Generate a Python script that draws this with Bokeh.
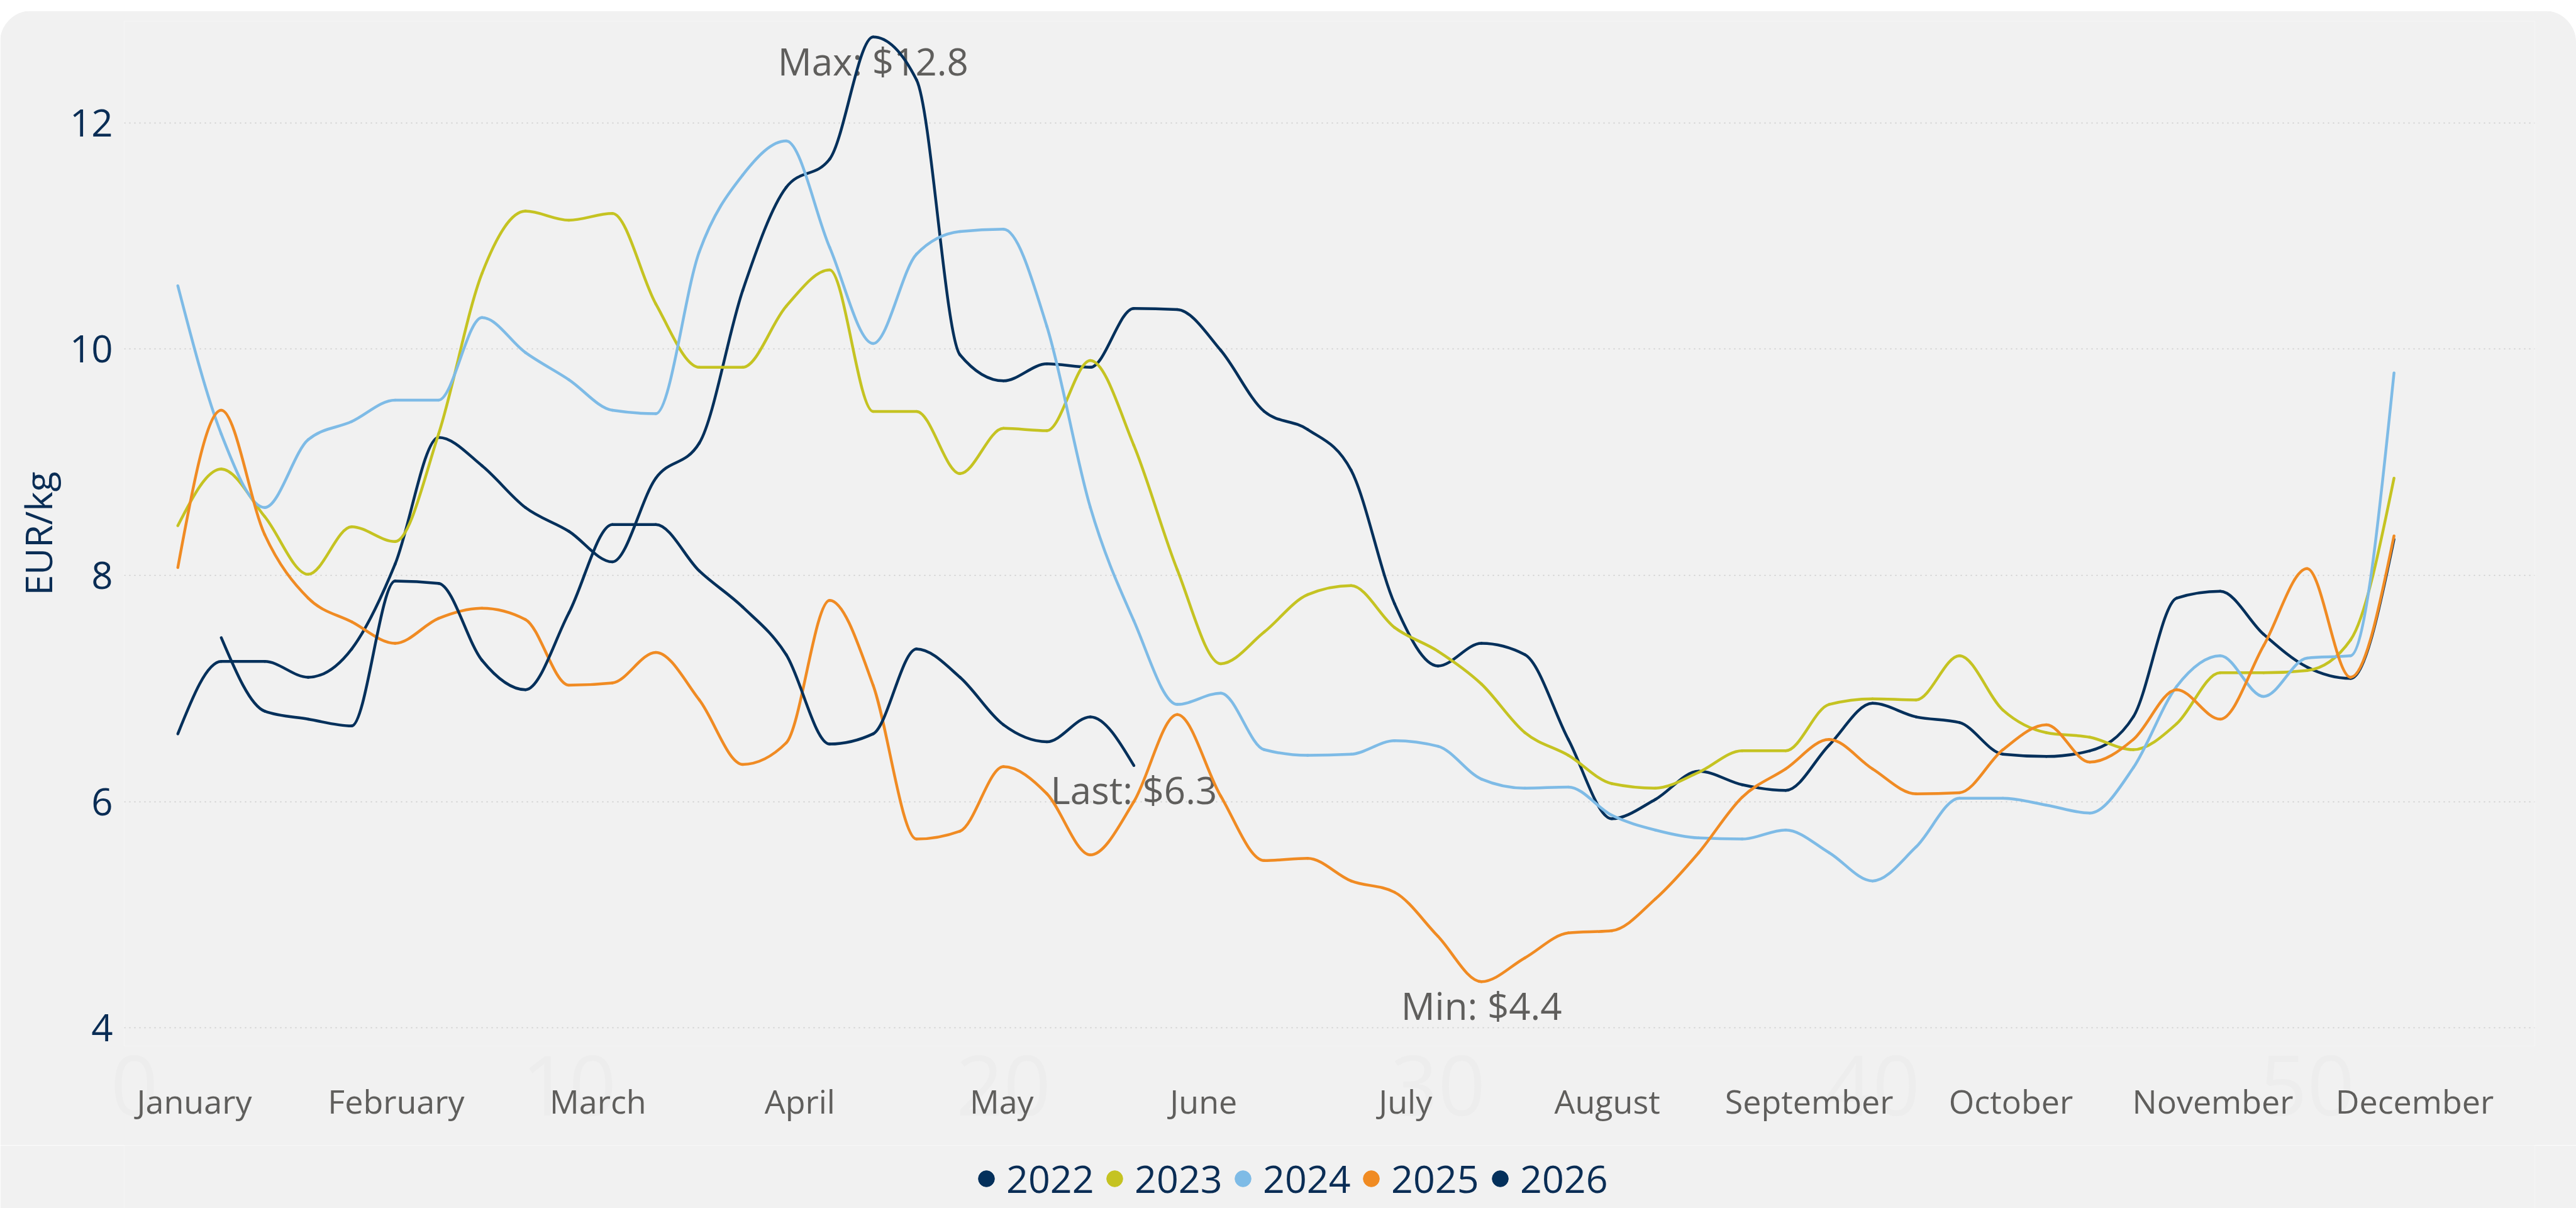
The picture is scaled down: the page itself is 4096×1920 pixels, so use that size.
from bokeh.plotting import figure
from bokeh.models import FixedTicker, Legend, LegendItem, Range1d, Spacer, LinearAxis
from bokeh.layouts import column
from bokeh.embed import file_html
from bokeh.resources import INLINE
from bokeh.core.properties import value

# ---------------- data (weekly prices, EUR/kg) ----------------
weeks = list(range(1, 53))
y2022 = [6.60, 7.24, 7.24, 7.10, 7.35, 8.10, 9.22, 8.97, 8.60, 8.39,
         8.12, 8.86, 9.17, 10.52, 11.43, 11.68, 12.76, 12.38, 9.95, 9.72,
         9.87, 9.84, 10.36, 10.35, 9.99, 9.45, 9.29, 8.93, 7.75, 7.20,
         7.40, 7.30, 6.55, 5.85, 6.02, 6.27, 6.15, 6.10, 6.50, 6.87,
         6.75, 6.70, 6.42, 6.40, 6.45, 6.75, 7.80, 7.86, 7.48, 7.19,
         7.09, 8.32]
y2023 = [8.44, 8.94, 8.52, 8.01, 8.43, 8.30, 9.25, 10.67, 11.22, 11.14,
         11.20, 10.40, 9.84, 9.84, 10.38, 10.70, 9.45, 9.45, 8.90, 9.30,
         9.28, 9.90, 9.15, 8.05, 7.22, 7.50, 7.83, 7.91, 7.54, 7.33,
         7.04, 6.61, 6.41, 6.16, 6.12, 6.26, 6.45, 6.45, 6.86, 6.91,
         6.90, 7.29, 6.81, 6.61, 6.57, 6.46, 6.69, 7.14, 7.14, 7.16,
         7.43, 8.86]
y2024 = [10.56, 9.25, 8.60, 9.20, 9.36, 9.55, 9.55, 10.28, 9.97, 9.73,
         9.46, 9.43, 10.86, 11.54, 11.84, 10.90, 10.05, 10.84, 11.04, 11.06,
         10.20, 8.60, 7.60, 6.86, 6.96, 6.46, 6.41, 6.42, 6.54, 6.49,
         6.20, 6.12, 6.13, 5.88, 5.75, 5.68, 5.67, 5.75, 5.55, 5.30,
         5.60, 6.03, 6.03, 5.97, 5.90, 6.30, 7.02, 7.29, 6.93, 7.27,
         7.29, 9.79]
y2025 = [8.07, 9.46, 8.36, 7.80, 7.59, 7.40, 7.62, 7.71, 7.61, 7.03,
         7.05, 7.32, 6.90, 6.33, 6.52, 7.78, 7.03, 5.67, 5.74, 6.31,
         6.07, 5.53, 6.00, 6.77, 6.05, 5.48, 5.50, 5.30, 5.20, 4.81,
         4.41, 4.62, 4.84, 4.86, 5.14, 5.55, 6.04, 6.29, 6.55, 6.29,
         6.07, 6.08, 6.46, 6.68, 6.35, 6.55, 6.99, 6.73, 7.38, 8.06,
         7.10, 8.35]
weeks_2026 = list(range(2, 24))
y2026 = [7.45, 6.80, 6.73, 6.67, 7.95, 7.93, 7.25, 6.99, 7.67, 8.45,
         8.45, 8.04, 7.72, 7.30, 6.51, 6.60, 7.35, 7.10, 6.68, 6.53,
         6.75, 6.32]

series_names = ["2022", "2023", "2024", "2025", "2026"]
months = ["January", "February", "March", "April", "May", "June", "July",
          "August", "September", "October", "November", "December"]
y_ticks = [4, 6, 8, 10, 12]
week_ticks = [0, 10, 20, 30, 40, 50]

# ---------------- style ----------------
NAVY_TXT = "#0A2D55"
GRAY_TXT = "#5F5E5C"
CARD = "#F1F1F1"
colors = ["#04305B", "#C5C322", "#7EBBE6", "#F08B23", "#04305B"]
FONT = "Open Sans"

p = figure(width=4096, height=1803, output_backend="svg", toolbar_location=None,
           x_range=Range1d(-0.234, 55.24), y_range=Range1d(3.841, 12.90),
           min_border_left=197, min_border_right=66, min_border_top=16,
           min_border_bottom=158)
p.background_fill_color = CARD
p.border_fill_color = CARD
p.outline_line_color = None
p.styles = {"border-radius": "50px 50px 0 0", "overflow": "hidden"}

# grid
p.xgrid.visible = False
p.ygrid.ticker = FixedTicker(ticks=y_ticks)
p.ygrid.grid_line_color = "#C9C9C9"
p.ygrid.grid_line_width = 1.6
p.ygrid.grid_line_dash = "2 6"

# y axis
ya = p.yaxis[0]
ya.ticker = FixedTicker(ticks=y_ticks)
ya.axis_line_color = None
ya.major_tick_line_color = None
ya.minor_tick_line_color = None
ya.major_label_text_font = FONT
ya.major_label_text_font_size = "60px"
ya.major_label_text_color = NAVY_TXT
ya.major_label_standoff = 12
ya.axis_label = "EUR/kg"
ya.axis_label_text_font = FONT
ya.axis_label_text_font_size = "59px"
ya.axis_label_text_font_style = "normal"
ya.axis_label_text_color = NAVY_TXT
ya.axis_label_standoff = 8

# faint week numbers (first below axis, closest to the frame)
xa = p.xaxis[0]
xa.ticker = FixedTicker(ticks=week_ticks)
xa.axis_line_color = None
xa.major_tick_line_color = None
xa.minor_tick_line_color = None
xa.major_label_text_font = FONT
xa.major_label_text_font_size = "132px"
xa.major_label_text_color = "#EDEDED"
xa.major_label_standoff = 9

# month names (second below axis, drawn on top of the faint numbers)
month_pos = [round(1.38 + 4.645 * i, 3) for i in range(len(months))]
ma = LinearAxis(ticker=FixedTicker(ticks=month_pos),
                major_label_overrides={pos: m for pos, m in zip(month_pos, months)})
ma.axis_line_color = None
ma.major_tick_line_color = None
ma.minor_tick_line_color = None
ma.major_label_text_font = FONT
ma.major_label_text_font_size = "52px"
ma.major_label_text_color = GRAY_TXT
ma.major_label_standoff = -68
p.add_layout(ma, "below")

# annotations (drawn before lines so lines pass over them)
imax = max(range(len(y2022)), key=lambda i: y2022[i])
imin = min(range(len(y2025)), key=lambda i: y2025[i])
ann_x = [weeks[imax], weeks[imin], weeks_2026[-1]]
ann_y = [y2022[imax], y2025[imin], y2026[-1]]
ann_t = ["Max: $%.1f" % y2022[imax], "Min: $%.1f" % y2025[imin], "Last: $%.1f" % y2026[-1]]
p.text(x=ann_x, y=ann_y, text=ann_t, y_offset=38, text_align="center",
       text_baseline="alphabetic", text_font=value(FONT), text_font_size="60px",
       text_color=GRAY_TXT)


def mono_slopes(x, y):
    n = len(x)
    t = [0.0] * n
    sgn = lambda v: -1.0 if v < 0 else 1.0
    for i in range(1, n - 1):
        h0 = x[i] - x[i - 1]
        h1 = x[i + 1] - x[i]
        s0 = (y[i] - y[i - 1]) / h0
        s1 = (y[i + 1] - y[i]) / h1
        pp = (s0 * h1 + s1 * h0) / (h0 + h1)
        t[i] = (sgn(s0) + sgn(s1)) * min(abs(s0), abs(s1), 0.5 * abs(pp))
    t[0] = (3 * (y[1] - y[0]) / (x[1] - x[0]) - t[1]) / 2
    t[-1] = (3 * (y[-1] - y[-2]) / (x[-1] - x[-2]) - t[-2]) / 2
    return t


def smooth_line(fig, x, y, color):
    t = mono_slopes(x, y)
    seg = dict(x0=[], y0=[], x1=[], y1=[], cx0=[], cy0=[], cx1=[], cy1=[])
    for i in range(len(x) - 1):
        dx = (x[i + 1] - x[i]) / 3.0
        seg["x0"].append(x[i]); seg["y0"].append(y[i])
        seg["x1"].append(x[i + 1]); seg["y1"].append(y[i + 1])
        seg["cx0"].append(x[i] + dx); seg["cy0"].append(y[i] + dx * t[i])
        seg["cx1"].append(x[i + 1] - dx); seg["cy1"].append(y[i + 1] - dx * t[i + 1])
    fig.bezier(line_color=color, line_width=4.5, line_cap="round", **seg)


all_x = [weeks, weeks, weeks, weeks, weeks_2026]
all_y = [y2022, y2023, y2024, y2025, y2026]
for xs, ys, c in zip(all_x, all_y, colors):
    smooth_line(p, xs, ys, c)

# ---------------- legend strip ----------------
pl = figure(width=4096, height=100, output_backend="svg", toolbar_location=None,
            x_range=Range1d(0, 1), y_range=Range1d(0, 1),
            x_axis_location=None, y_axis_location=None, min_border=0)
pl.background_fill_color = CARD
pl.border_fill_color = CARD
pl.outline_line_color = None
pl.grid.visible = False
legend_key_x = [1339, 1543, 1747, 1951, 2156]   # legend box anchors (screen px)
for name, c, lx in zip(series_names, colors, legend_key_x):
    # one off-range point per key so that the legend can draw its marker
    r = pl.scatter(x=[-5], y=[-5], marker="circle", size=10, fill_color=c, line_color=c)
    lg = Legend(items=[LegendItem(label=name, renderers=[r])], orientation="horizontal",
                location=(lx, 6), glyph_width=64, glyph_height=80,
                label_standoff=0, padding=0, margin=0, spacing=0,
                background_fill_alpha=0, border_line_color=None,
                label_text_font=FONT, label_text_font_size="61px",
                label_text_color=NAVY_TXT)
    pl.add_layout(lg)

layout = column(Spacer(width=4096, height=17), p, pl)
open("out.html", "w").write(file_html(layout, INLINE))
